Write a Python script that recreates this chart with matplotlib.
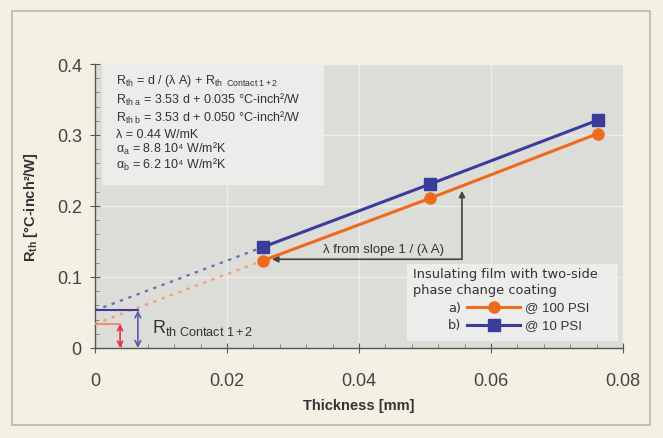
import matplotlib
matplotlib.use("Agg")
import matplotlib.pyplot as plt
from matplotlib.patches import Rectangle
from matplotlib.lines import Line2D
from matplotlib.ticker import MultipleLocator

plt.rcParams['font.family'] = ['Liberation Sans', 'DejaVu Sans']
plt.rcParams['mathtext.fontset'] = 'custom'
plt.rcParams['mathtext.rm'] = 'Liberation Sans'
plt.rcParams['mathtext.bf'] = 'Liberation Sans:bold'
plt.rcParams['mathtext.it'] = 'Liberation Sans:italic'

# ---- data ----
thickness = [0.0254, 0.0508, 0.0762]
rth_a = [0.123, 0.211, 0.302]      # @ 100 PSI
rth_b = [0.142, 0.231, 0.321]      # @ 10 PSI
contact_a = 0.034
contact_b = 0.053
label_a = "@ 100 PSI"
label_b = "@ 10 PSI"
xticks = [0, 0.02, 0.04, 0.06, 0.08]
xticklabels = ["0", "0.02", "0.04", "0.06", "0.08"]
yticks = [0, 0.1, 0.2, 0.3, 0.4]
yticklabels = ["0", "0.1", "0.2", "0.3", "0.4"]

orange = "#ee6a1e"
blue = "#3b3c9c"
red = "#e0304a"
fig_bg = "#f3f0e4"
plot_bg = "#dcdcd8"
box_bg = "#ececea"
dark = "#333333"

fig = plt.figure(figsize=(6.63, 4.39), dpi=100, facecolor=fig_bg)
ax = fig.add_axes([95/663, 1-349/439, 528/663, 284/439])
ax.set_facecolor(plot_bg)
ax.set_xlim(0, 0.08)
ax.set_ylim(0, 0.4)

# outer frame
fig.patches.append(Rectangle((12/663, 13/439), 638/663, 414/439, transform=fig.transFigure,
                             fill=False, edgecolor="#b9b7ae", lw=1.2))

# grid
ax.set_axisbelow(True)
ax.grid(True, which='major', color='#ececea', lw=1.0)

for s in ['top', 'right']:
    ax.spines[s].set_visible(False)
for s in ['left', 'bottom']:
    ax.spines[s].set_color('#555555')
    ax.spines[s].set_linewidth(1.0)

ax.set_xticks(xticks)
ax.set_xticklabels(xticklabels)
ax.set_yticks(yticks)
ax.set_yticklabels(yticklabels)
ax.xaxis.set_minor_locator(MultipleLocator(0.004))
ax.yaxis.set_minor_locator(MultipleLocator(0.02))
ax.tick_params(axis='both', which='major', direction='inout', length=7, color='#555555',
               labelsize=13, labelcolor='#444444')
ax.tick_params(axis='both', which='minor', direction='in', length=3, color='#777777')
ax.tick_params(axis='x', which='major', pad=14)
ax.tick_params(axis='y', which='major', pad=6)

ax.set_xlabel("Thickness [mm]", fontsize=10.5, fontweight='bold', color=dark, labelpad=6)
ax.set_ylabel(r"R$_{\mathbf{th}}$ [°C-inch²/W]", fontsize=10.5, fontweight='bold', color=dark,
              labelpad=12)

# dotted extrapolations to the contact resistance
ax.plot([0, thickness[0]], [contact_a, rth_a[0]], ls=(0, (1.5, 2.5)), color="#f2a070", lw=1.6, zorder=3)
ax.plot([0, thickness[0]], [contact_b, rth_b[0]], ls=(0, (1.5, 2.5)), color="#6a6ab8", lw=1.6, zorder=3)

# contact resistance markers
xa_arrow = 0.0038
xb_arrow = 0.0065
ax.plot([0, xa_arrow], [contact_a, contact_a], color="#f08060", lw=1.2, zorder=3)
ax.plot([0, xb_arrow], [contact_b, contact_b], color=blue, lw=1.5, zorder=3)
ax.annotate("", xy=(xa_arrow, 0.0), xytext=(xa_arrow, contact_a),
            arrowprops=dict(arrowstyle='<->', color=red, lw=1.2, shrinkA=0, shrinkB=0,
                            mutation_scale=9))
ax.annotate("", xy=(xb_arrow, 0.0), xytext=(xb_arrow, contact_b),
            arrowprops=dict(arrowstyle='<->', color="#5a5ab0", lw=1.2, shrinkA=0, shrinkB=0,
                            mutation_scale=10))
ax.text(0.0087, 0.022, r"R$_{\rm th\ Contact\ 1+2}$", fontsize=13, color=dark, va='baseline')

# data series
ax.plot(thickness, rth_a, '-o', color=orange, lw=2.2, ms=8, mec=orange, zorder=5)
ax.plot(thickness, rth_b, '-s', color=blue, lw=2.2, ms=8, mec=blue, zorder=4)

# slope annotation
corner = (0.0556, 0.125)
ax.annotate("", xy=(0.0556, 0.2215), xytext=corner,
            arrowprops=dict(arrowstyle='-|>', color='#444444', lw=1.2, shrinkA=0, shrinkB=0,
                            mutation_scale=9))
ax.annotate("", xy=(0.0268, 0.125), xytext=corner,
            arrowprops=dict(arrowstyle='-|>', color='#444444', lw=1.2, shrinkA=0, shrinkB=0,
                            mutation_scale=9))
ax.text(0.0437, 0.131, "λ from slope 1 / (λ A)", fontsize=9.5, color=dark, ha='center', va='bottom')

# formula box
ax.add_patch(Rectangle((0.013, 0.575), 0.42, 0.42, transform=ax.transAxes,
                       facecolor=box_bg, edgecolor='none', zorder=2))
lines = [
    r"R$_{\rm th}$ = d / (λ A) + R$_{\rm th\ \ Contact\ 1+2}$",
    r"R$_{\rm th\ a}$ = 3.53 d + 0.035 °C-inch²/W",
    r"R$_{\rm th\ b}$ = 3.53 d + 0.050 °C-inch²/W",
    "λ = 0.44 W/mK",
    r"α$_{\rm a}$ = 8.8 10⁴ W/m²K",
    r"α$_{\rm b}$ = 6.2 10⁴ W/m²K",
]
ys = [0.944, 0.876, 0.812, 0.754, 0.705, 0.648]
for t, y in zip(lines, ys):
    ax.text(0.04, y, t, transform=ax.transAxes, fontsize=9.0, color=dark, va='center', zorder=6,
            family=['Liberation Sans', 'DejaVu Sans'])

# legend box (manual)
ax.add_patch(Rectangle((0.591, 0.025), 0.40, 0.272, transform=ax.transAxes,
                       facecolor=box_bg, edgecolor='none', zorder=2))
ax.text(0.603, 0.262, "Insulating film with two-side", transform=ax.transAxes,
        family='DejaVu Sans', fontsize=9.4, color=dark, va='center', zorder=6)
ax.text(0.603, 0.205, "phase change coating", transform=ax.transAxes,
        family='DejaVu Sans', fontsize=9.4, color=dark, va='center', zorder=6)
for tag, lab, col, mk, y in [("a)", label_a, orange, 'o', 0.144), ("b)", label_b, blue, 's', 0.081)]:
    ax.text(0.693, y, tag, transform=ax.transAxes, family='DejaVu Sans', fontsize=9.4,
            color=dark, va='center', ha='right', zorder=6)
    ax.add_line(Line2D([0.705, 0.805], [y, y], transform=ax.transAxes, color=col, lw=2.2, zorder=6))
    ax.add_line(Line2D([0.755], [y], transform=ax.transAxes, color=col, marker=mk, ms=8,
                       mec=col, zorder=7))
    ax.text(0.815, y, lab, transform=ax.transAxes, fontsize=9.5, color=dark, va='center', zorder=6)

fig.savefig("out.png", dpi=100, facecolor=fig_bg)
